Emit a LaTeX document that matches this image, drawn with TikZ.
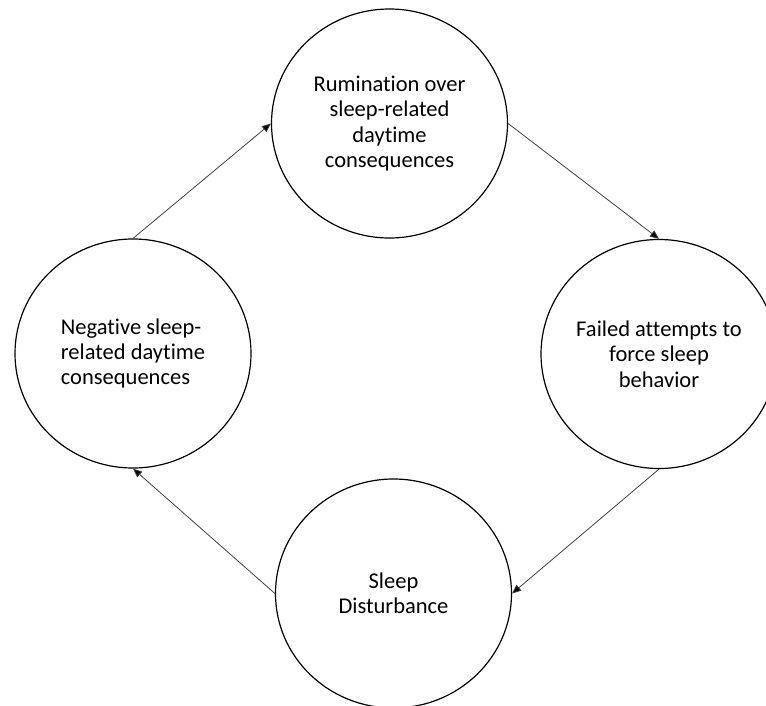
\documentclass[tikz,border=0pt]{standalone}
\usepackage{fontspec}
\setmainfont{Carlito}[Ligatures={NoCommon}]
\usetikzlibrary{shapes.geometric,arrows.meta}
\begin{document}
\begin{tikzpicture}[x=1pt,y=-1pt,
  bubble/.style={ellipse,draw=black,line width=1.2pt,minimum width=236pt,minimum height=229pt,inner sep=0pt,font=\fontsize{22.5}{25.3}\selectfont},
  link/.style={draw=black!75,line width=0.8pt,-{Triangle[length=9pt,width=7.5pt,fill=black]}}]
\useasboundingbox (0,0) rectangle (766,705);
\node[bubble,align=center] (top) at (389.5,123.5) {Rumination over\\sleep-related\\daytime\\consequences};
\node[bubble,align=center] (right) at (659,354) {Failed attempts to\\force sleep\\behavior};
\node[bubble,align=left] (left) at (133,353.5) {Negative sleep-\\related daytime\\consequences};
\node[bubble,align=center] (bottom) at (393.5,593.5) {Sleep\\Disturbance};
\draw[link] (left.north) -- (top.west);
\draw[link] (top.east) -- (right.north);
\draw[link] (right.south) -- (bottom.east);
\draw[link] (bottom.west) -- (left.south);
\end{tikzpicture}
\end{document}
